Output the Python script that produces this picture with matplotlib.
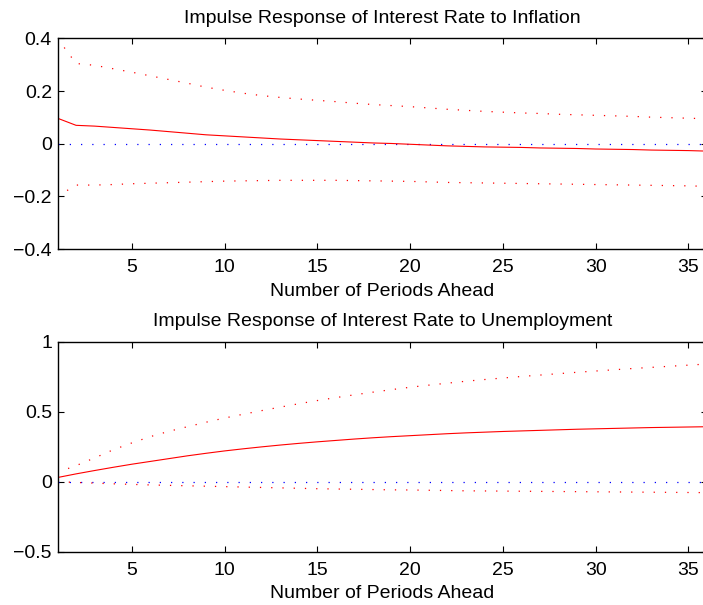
import matplotlib
matplotlib.use("Agg")
import matplotlib.pyplot as plt
import numpy as np

plt.rcParams['font.family'] = ['Liberation Sans', 'DejaVu Sans']

periods = list(range(1, 37))

# response of interest rate to inflation
infl_irf = [0.097, 0.070, 0.067, 0.062, 0.057, 0.052, 0.046, 0.040, 0.034, 0.030,
            0.026, 0.022, 0.018, 0.015, 0.012, 0.009, 0.006, 0.003, 0.001, -0.002,
            -0.005, -0.008, -0.010, -0.012, -0.013, -0.014, -0.016, -0.017, -0.018, -0.020,
            -0.021, -0.022, -0.024, -0.025, -0.026, -0.028]
infl_upper = [0.400, 0.305, 0.298, 0.285, 0.272, 0.258, 0.244, 0.230, 0.215, 0.203,
              0.192, 0.183, 0.176, 0.170, 0.165, 0.160, 0.154, 0.149, 0.145, 0.141,
              0.136, 0.131, 0.127, 0.123, 0.120, 0.117, 0.115, 0.112, 0.110, 0.108,
              0.106, 0.104, 0.101, 0.099, 0.097, 0.095]
infl_lower = [-0.200, -0.157, -0.157, -0.155, -0.152, -0.150, -0.148, -0.146, -0.144, -0.142,
              -0.141, -0.140, -0.139, -0.139, -0.139, -0.139, -0.140, -0.141, -0.142, -0.143,
              -0.145, -0.147, -0.148, -0.149, -0.150, -0.151, -0.152, -0.153, -0.154, -0.155,
              -0.156, -0.157, -0.158, -0.159, -0.160, -0.162]

# response of interest rate to unemployment
unemp_irf = [0.030, 0.056, 0.080, 0.103, 0.125, 0.145, 0.165, 0.185, 0.203, 0.220,
             0.235, 0.249, 0.262, 0.274, 0.285, 0.295, 0.305, 0.314, 0.322, 0.329,
             0.336, 0.343, 0.349, 0.354, 0.359, 0.363, 0.367, 0.371, 0.375, 0.378,
             0.381, 0.384, 0.387, 0.389, 0.391, 0.393]
unemp_upper = [0.067, 0.115, 0.170, 0.228, 0.277, 0.322, 0.360, 0.393, 0.425, 0.455,
               0.482, 0.508, 0.533, 0.557, 0.580, 0.601, 0.621, 0.640, 0.658, 0.675,
               0.690, 0.704, 0.718, 0.730, 0.741, 0.752, 0.762, 0.772, 0.782, 0.791,
               0.800, 0.809, 0.817, 0.825, 0.833, 0.841]
unemp_lower = [0.000, -0.005, -0.010, -0.015, -0.019, -0.023, -0.026, -0.029, -0.032, -0.035,
               -0.038, -0.041, -0.044, -0.047, -0.050, -0.052, -0.054, -0.056, -0.058, -0.059,
               -0.061, -0.063, -0.065, -0.066, -0.067, -0.068, -0.069, -0.070, -0.071, -0.072,
               -0.073, -0.074, -0.075, -0.076, -0.077, -0.078]

titles = ["Impulse Response of Interest Rate to Inflation",
          "Impulse Response of Interest Rate to Unemployment"]
xlab = "Number of Periods Ahead"
xticks = [5, 10, 15, 20, 25, 30, 35]
yticks_top = [-0.4, -0.2, 0, 0.2, 0.4]
ytick_labels_top = ["\u22120.4", "\u22120.2", "0", "0.2", "0.4"]
yticks_bot = [-0.5, 0, 0.5, 1]
ytick_labels_bot = ["\u22120.5", "0", "0.5", "1"]

fig = plt.figure(figsize=(7.03, 6.05), dpi=100)
ax1 = fig.add_axes([0.0818, 0.5884, 0.9239, 0.348])
ax2 = fig.add_axes([0.0818, 0.0881, 0.9239, 0.347])

dots = (0, (1, 8))
zeros = np.zeros(len(periods))

panels = [
    (ax1, infl_irf, infl_upper, infl_lower, titles[0], (-0.4, 0.4), yticks_top, ytick_labels_top),
    (ax2, unemp_irf, unemp_upper, unemp_lower, titles[1], (-0.5, 1), yticks_bot, ytick_labels_bot),
]

for ax, irf, up, lo, title, ylim, yt, ytl in panels:
    ax.plot(periods, zeros, color="blue", linestyle=dots, linewidth=0.9)
    ax.plot(periods, up, color="red", linestyle=dots, linewidth=0.9)
    ax.plot(periods, lo, color="red", linestyle=dots, linewidth=0.9)
    ax.plot(periods, irf, color="red", linewidth=0.8)
    ax.set_xlim(1, 36)
    ax.set_ylim(*ylim)
    ax.set_xticks(xticks)
    ax.set_yticks(yt)
    ax.set_yticklabels(ytl)
    ax.tick_params(direction="in", length=4.5, width=0.8, top=True, right=True,
                   labelsize=14)
    ax.tick_params(axis="x", pad=7.5)
    ax.tick_params(axis="y", pad=4)
    for sp in ax.spines.values():
        sp.set_linewidth(1.0)
    ax.set_title(title, fontsize=14, pad=11.5)
    ax.set_xlabel(xlab, fontsize=14, labelpad=4.5)

fig.savefig("out.png", dpi=100)
